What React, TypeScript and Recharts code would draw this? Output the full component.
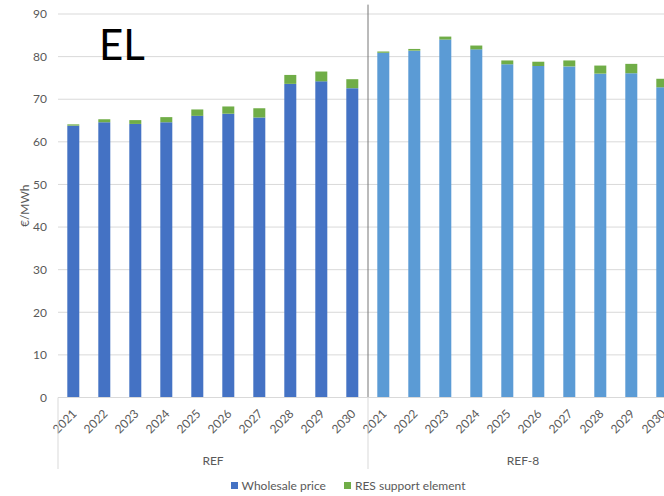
import { BarChart, Bar, XAxis, YAxis, CartesianGrid, Legend, ReferenceLine, Cell } from 'recharts'

const years = ['2021', '2022', '2023', '2024', '2025', '2026', '2027', '2028', '2029', '2030']
const scenarios = ['REF', 'REF-8']
const seriesNames = ['Wholesale price', 'RES support element']

const refWholesale = [63.8, 64.6, 64.2, 64.6, 66.1, 66.6, 65.7, 73.6, 74.2, 72.6]
const refSupport = [0.3, 0.7, 0.9, 1.2, 1.5, 1.7, 2.2, 2.1, 2.3, 2.1]
const ref8Wholesale = [80.9, 81.4, 84.0, 81.7, 78.2, 77.8, 77.7, 76.0, 76.1, 72.8]
const ref8Support = [0.3, 0.4, 0.7, 0.9, 0.9, 1.0, 1.4, 1.9, 2.2, 2.0]

const yTicks = [0, 10, 20, 30, 40, 50, 60, 70, 80, 90]

const wholesaleColor: Record<string, string> = { REF: '#4472C4', 'REF-8': '#5B9BD5' }
const supportColor = '#70AD47'
const textColor = '#595959'
const lineColor = '#D9D9D9'

const YEAR_AXIS_H = 48
const GROUP_AXIS_H = 28.5

const data = scenarios.flatMap((scenario, s) =>
  years.map((year, i) => ({
    key: `${scenario} ${year}`,
    scenario,
    wholesale: s === 0 ? refWholesale[i] : ref8Wholesale[i],
    support: s === 0 ? refSupport[i] : ref8Support[i],
  }))
)

const YearTick = ({ x, y, payload }: any) => (
  <text
    transform={`translate(${x + 4},${y + 17}) rotate(-45)`}
    textAnchor="end"
    fontSize={12}
    fill={textColor}
  >
    {String(payload.value).split(' ')[1]}
  </text>
)

// second axis row: scenario names centred under their years, with separators
const GroupTick = ({ x, y, payload, index }: any) => {
  const half = payload.offset || 15.5
  const n = years.length
  return (
    <g>
      {index % n === 0 && (
        <line x1={x - half} x2={x - half} y1={y - YEAR_AXIS_H} y2={y + 23.5} stroke={lineColor} />
      )}
      {index === data.length - 1 && (
        <line x1={x + half} x2={x + half} y1={y - YEAR_AXIS_H} y2={y + 23.5} stroke={lineColor} />
      )}
      {index % n === n / 2 && (
        <text x={x - half} y={y + 19.5} textAnchor="middle" fontSize={12} fill={textColor}>
          {payload.value}
        </text>
      )}
    </g>
  )
}

const LegendContent = ({ payload }: any) => {
  const items = [...(payload || [])].sort(
    (a: any, b: any) => seriesNames.indexOf(a.value) - seriesNames.indexOf(b.value)
  )
  return (
    <div
      style={{
        display: 'flex',
        justifyContent: 'center',
        alignItems: 'center',
        height: 22,
        paddingLeft: 18,
        fontSize: 12,
        color: textColor,
      }}
    >
      {items.map((p: any, i: number) => (
        <span key={p.value} style={{ display: 'flex', alignItems: 'center', marginLeft: i ? 18 : 0 }}>
          <span style={{ width: 7, height: 7, background: p.color, marginRight: 4 }} />
          {p.value}
        </span>
      ))}
    </div>
  )
}

export default function App() {
  return (
    <div
      style={{
        position: 'absolute',
        left: 0,
        top: 0,
        width: 664,
        height: 496,
        overflow: 'hidden',
        background: '#fff',
        fontFamily: 'Lato, sans-serif',
      }}
    >
      <BarChart
        width={678}
        height={496}
        data={data}
        margin={{ top: 14, right: 0, bottom: 0, left: 0 }}
        barCategoryGap="30%"
      >
        <CartesianGrid vertical={false} stroke={lineColor} />
        <XAxis
          dataKey="key"
          interval={0}
          height={YEAR_AXIS_H}
          tickLine={false}
          tickSize={0}
          tickMargin={0}
          axisLine={{ stroke: lineColor }}
          tick={<YearTick />}
        />
        <XAxis
          xAxisId="group"
          dataKey="scenario"
          interval={0}
          height={GROUP_AXIS_H}
          tickLine={false}
          tickSize={0}
          tickMargin={0}
          axisLine={false}
          tick={<GroupTick />}
        />
        <YAxis
          width={58}
          domain={[0, 90]}
          ticks={yTicks}
          axisLine={false}
          tickLine={false}
          tickSize={0}
          tickMargin={11}
          tick={{ fontSize: 12, fill: textColor }}
          label={{
            value: '€/MWh',
            angle: -90,
            position: 'insideLeft',
            offset: 25,
            style: { textAnchor: 'middle', fill: textColor, fontSize: 12 },
          }}
        />
        <ReferenceLine
          segment={[
            { x: 'REF-8 2021', y: 0 },
            { x: 'REF-8 2021', y: 92.2 },
          ]}
          position="start"
          ifOverflow="visible"
          stroke="#767676"
        />
        <Bar dataKey="wholesale" name={seriesNames[0]} stackId="a" fill={wholesaleColor.REF} isAnimationActive={false}>
          {data.map((d) => (
            <Cell key={d.key} fill={wholesaleColor[d.scenario]} />
          ))}
        </Bar>
        <Bar dataKey="support" name={seriesNames[1]} stackId="a" fill={supportColor} isAnimationActive={false} />
        <Legend verticalAlign="bottom" content={<LegendContent />} />
      </BarChart>
      <svg width={664} height={496} style={{ position: 'absolute', left: 0, top: 0, pointerEvents: 'none' }}>
        <text x={99} y={60} fontSize={42} fill="#000">
          EL
        </text>
      </svg>
    </div>
  )
}
